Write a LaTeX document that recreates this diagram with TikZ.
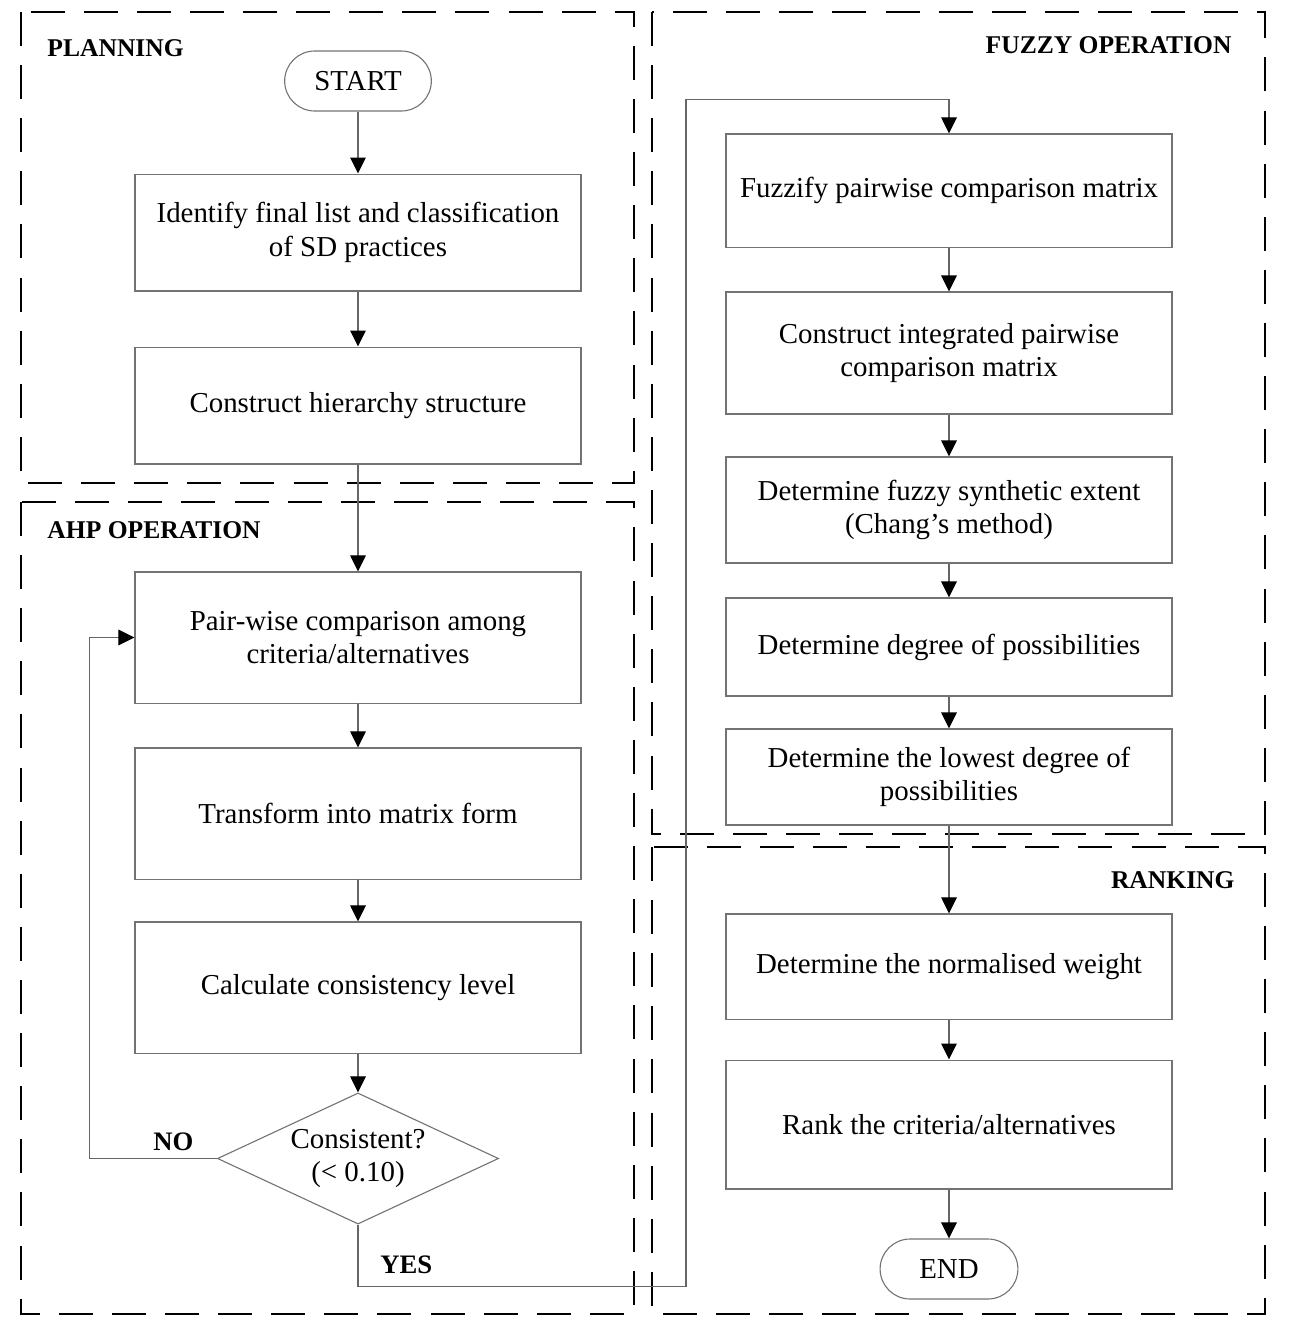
\documentclass[tikz,border=0pt]{standalone}
\usepackage{fontspec}
\setmainfont{Liberation Serif}
\usetikzlibrary{shapes.geometric,arrows.meta}

\begin{document}
\begin{tikzpicture}[x=0.45pt, y=-0.45pt, >={Triangle[width=7pt,length=7.2pt,color=black]}]

        	\tikzstyle{box} = [draw=black!55, line width=0.5pt, minimum width=200.7pt, align=center, inner sep=0pt, font=\fontsize{13}{15}\selectfont];
        	\tikzstyle{term} = [box, rounded corners=13.5pt, minimum width=66pt, minimum height=27pt];
        	\tikzstyle{decision} = [box, diamond, aspect=2.14, minimum width=126.5pt, minimum height=59pt];
        	\tikzstyle{stage} = [draw, line width=0.9pt, dash pattern=on 15.3pt off 8.6pt];
        	\tikzstyle{phase} = [inner sep=0pt, font=\bfseries\fontsize{11.5}{13}\selectfont];
        	\tikzstyle{flow} = [draw=black!60, line width=0.5pt];

        	\useasboundingbox (0,0) rectangle (1290,1326);

        	% dashed stage frames
        	\draw[stage] (21,12) rectangle (634,483);
        	\draw[stage] (21,502) rectangle (634,1314);
        	\draw[stage] (652,12) rectangle (1265,834);
        	\draw[stage] (652,847) rectangle (1265,1314);

        	\node[phase, anchor=base west] (planning) at (47,56) {PLANNING};
        	\node[phase, anchor=base west] (ahp) at (47,538) {AHP OPERATION};
        	\node[phase, anchor=base east] (fuzzy) at (1232,53) {FUZZY OPERATION};
        	\node[phase, anchor=base east] (ranking) at (1235,888) {RANKING};

        	% left column
        	\node[term] (start) at (358,81) {START};
        	\node[box, minimum height=52.6pt] (identify) at (358,232.5) {Identify final list and classification\\of SD practices};
        	\node[box, minimum height=52.6pt] (hierarchy) at (358,405.5) {Construct hierarchy structure};
        	\node[box, minimum height=59pt] (pairwise) at (358,637.5) {Pair-wise comparison among\\criteria/alternatives};
        	\node[box, minimum height=59pt] (matrix) at (358,813.5) {Transform into matrix form};
        	\node[box, minimum height=59pt] (consistency) at (358,987.5) {Calculate consistency level};
        	\node[decision] (check) at (358,1158.5) {Consistent?\\(< 0.10)};

        	% right column
        	\node[box, minimum height=50.9pt] (fuzzify) at (949,190.5) {Fuzzify pairwise comparison matrix};
        	\node[box, minimum height=54.9pt] (integrate) at (949,353) {Construct integrated  pairwise\\comparison matrix};
        	\node[box, minimum height=47.7pt] (extent) at (949,510) {Determine fuzzy synthetic extent\\(Chang’s method)};
        	\node[box, minimum height=44.1pt] (degree) at (949,647) {Determine degree of possibilities};
        	\node[box, minimum height=43.2pt] (lowest) at (949,777) {Determine the lowest degree of\\possibilities};
        	\node[box, minimum height=47.3pt] (weight) at (949,966.5) {Determine the normalised weight};
        	\node[box, minimum height=58pt] (rank) at (949,1124.5) {Rank the criteria/alternatives};
        	\node[term, minimum width=62pt] (finish) at (949,1269) {END};

        	\node[phase, anchor=base west, font=\bfseries\fontsize{12}{14}\selectfont] (no) at (153,1150) {NO};
        	\node[phase, anchor=base west, font=\bfseries\fontsize{12}{14}\selectfont] (yes) at (380,1273) {YES};

        	\draw[flow, ->] (start) -- (identify);
        	\draw[flow, ->] (identify) -- (hierarchy);
        	\draw[flow, ->] (hierarchy) -- (pairwise);
        	\draw[flow, ->] (pairwise) -- (matrix);
        	\draw[flow, ->] (matrix) -- (consistency);
        	\draw[flow, ->] (consistency) -- (check);
        	\draw[flow, ->] (check.west) -- ++(-127,0) |- (pairwise.west);
        	\draw[flow, ->] (check.south) -- ++(0,62) -| ++(328,-1187) -| (fuzzify.north);

        	\draw[flow, ->] (fuzzify) -- (integrate);
        	\draw[flow, ->] (integrate) -- (extent);
        	\draw[flow, ->] (extent) -- (degree);
        	\draw[flow, ->] (degree) -- (lowest);
        	\draw[flow, ->] (lowest) -- (weight);
        	\draw[flow, ->] (weight) -- (rank);
        	\draw[flow, ->] (rank) -- (finish);

    	\end{tikzpicture}
\end{document}
